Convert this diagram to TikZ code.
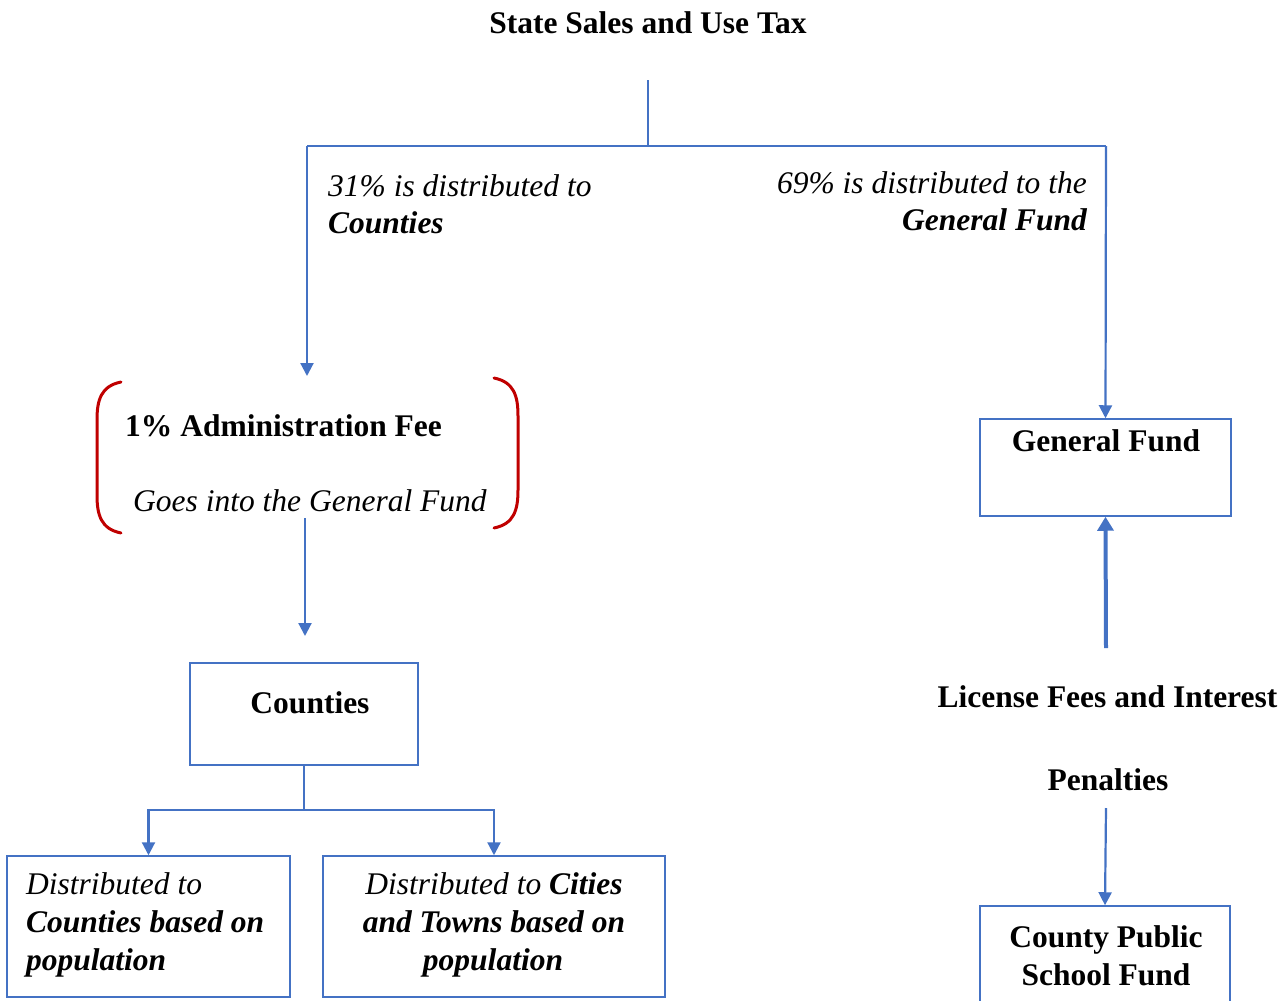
\documentclass[tikz,border=0pt]{standalone}
\usepackage{fontspec}
\setmainfont{Liberation Serif}[
  UprightFont=*,
  BoldFont=* Bold,
  ItalicFont=* Italic,
  BoldItalicFont=* Bold Italic]
\usetikzlibrary{arrows.meta}
\definecolor{lineblue}{HTML}{4472C4}
\definecolor{brred}{HTML}{C00000}
\newcommand\fsz{\fontsize{31.5}{38}\selectfont}
\tikzset{
  conn/.style={draw=lineblue, line width=2.2pt},
  arr/.style={conn, -{Triangle[width=13pt,length=13pt]}},
  thickarr/.style={draw=lineblue, line width=4pt, -{Triangle[width=16pt,length=14pt]}},
  box/.style={draw=lineblue, line width=1.5pt, inner sep=0pt},
  tx/.style={inner sep=0pt, font=\fsz},
  txb/.style={tx, font=\fsz\bfseries},
  txi/.style={tx, font=\fsz\itshape},
  txbi/.style={tx, font=\fsz\bfseries\itshape},
  bracket/.style={draw=brred, line width=3pt, line cap=round}
}
\begin{document}
\begin{tikzpicture}[x=1pt, y=-1pt]
\useasboundingbox (0,0) rectangle (1283,1001);
\fill[white] (0,0) rectangle (1283,1001);

% title and top split
\node[txb, anchor=base] (title) at (648,33) {State Sales and Use Tax};
\coordinate (top) at (648,80);
\coordinate (split) at (648,146);
\coordinate (lj) at (307,146);
\coordinate (rj) at (1106,146);
\coordinate (lend) at (307,376);

% boxes
\node[box, minimum width=251pt, minimum height=97pt] (gf) at (1105.5,467.5) {};
\node[box, minimum width=228pt, minimum height=102pt] (cb) at (304,714) {};
\node[box, minimum width=283pt, minimum height=141pt] (lb) at (148.5,926.5) {};
\node[box, minimum width=342pt, minimum height=141pt] (rb) at (494,926.5) {};
\node[box, minimum width=250pt, minimum height=110pt] (cp) at (1105,961) {};

% connectors
\draw[conn] (top) -- (split);
\draw[conn] (lj) -- (rj);
\draw[arr] (lj) -- (lend);
\draw[arr] (rj) -- (gf.north);

% distribution labels
\node[txi, anchor=base west] (p31a) at (328,196) {31\% is distributed to};
\node[txbi, anchor=base west] (p31b) at (328,233) {Counties};
\node[txi, anchor=base east] (p69a) at (1087,193) {69\% is distributed to the};
\node[txbi, anchor=base east] (p69b) at (1087,230) {General Fund};

% bracket group
\node[txb, anchor=base west] (fee) at (125,436) {1\% Administration Fee};
\node[txi, anchor=base west] (goes) at (133,511) {Goes into the General Fund};
\draw[bracket] (121,382) .. controls (101,386) and (97,400) .. (97,420) -- (97,495) .. controls (97,515) and (101,529) .. (121,533);
\draw[bracket] (494,378) .. controls (514,382) and (518,396) .. (518,416) -- (518,490) .. controls (518,510) and (514,524) .. (494,528);
\coordinate (fstart) at (305,518);
\coordinate (fend) at (305,636);
\draw[arr] (fstart) -- (fend);

% counties
\node[txb, anchor=base] (cbt) at (310,713) {Counties};
\coordinate (cj) at (304,810);
\draw[conn] (cb.south) -- (cj);
\draw[arr] (cj) -| (lb.north);
\draw[arr] (cj) -| (rb.north);

% left bottom box text
\node[txi, anchor=base west] (l1) at (26,894) {Distributed to};
\node[txbi, anchor=base west] (l2) at (26,932) {Counties based on};
\node[txbi, anchor=base west] (l3) at (26,970) {population};

% right bottom box text
\node[tx, anchor=base] (r1) at (494,894) {\itshape Distributed to \bfseries Cities};
\node[txbi, anchor=base] (r2) at (494,932) {and Towns based on};
\node[txbi, anchor=base] (r3) at (493,970) {population};

% general fund side
\node[txb, anchor=base] (gft) at (1106,451) {General Fund};
\coordinate (lfstart) at (1106,648);
\draw[thickarr] (lfstart) -- (gf.south);
\node[txb, anchor=base] (lic) at (1107.5,707) {License Fees and Interest};
\node[txb, anchor=base] (pen) at (1108,790) {Penalties};
\coordinate (penstart) at (1106,808);
\draw[arr] (penstart) -- (cp.north);
\node[txb, anchor=base] (cp1) at (1106,947) {County Public};
\node[txb, anchor=base] (cp2) at (1106,985) {School Fund};
\end{tikzpicture}
\end{document}
